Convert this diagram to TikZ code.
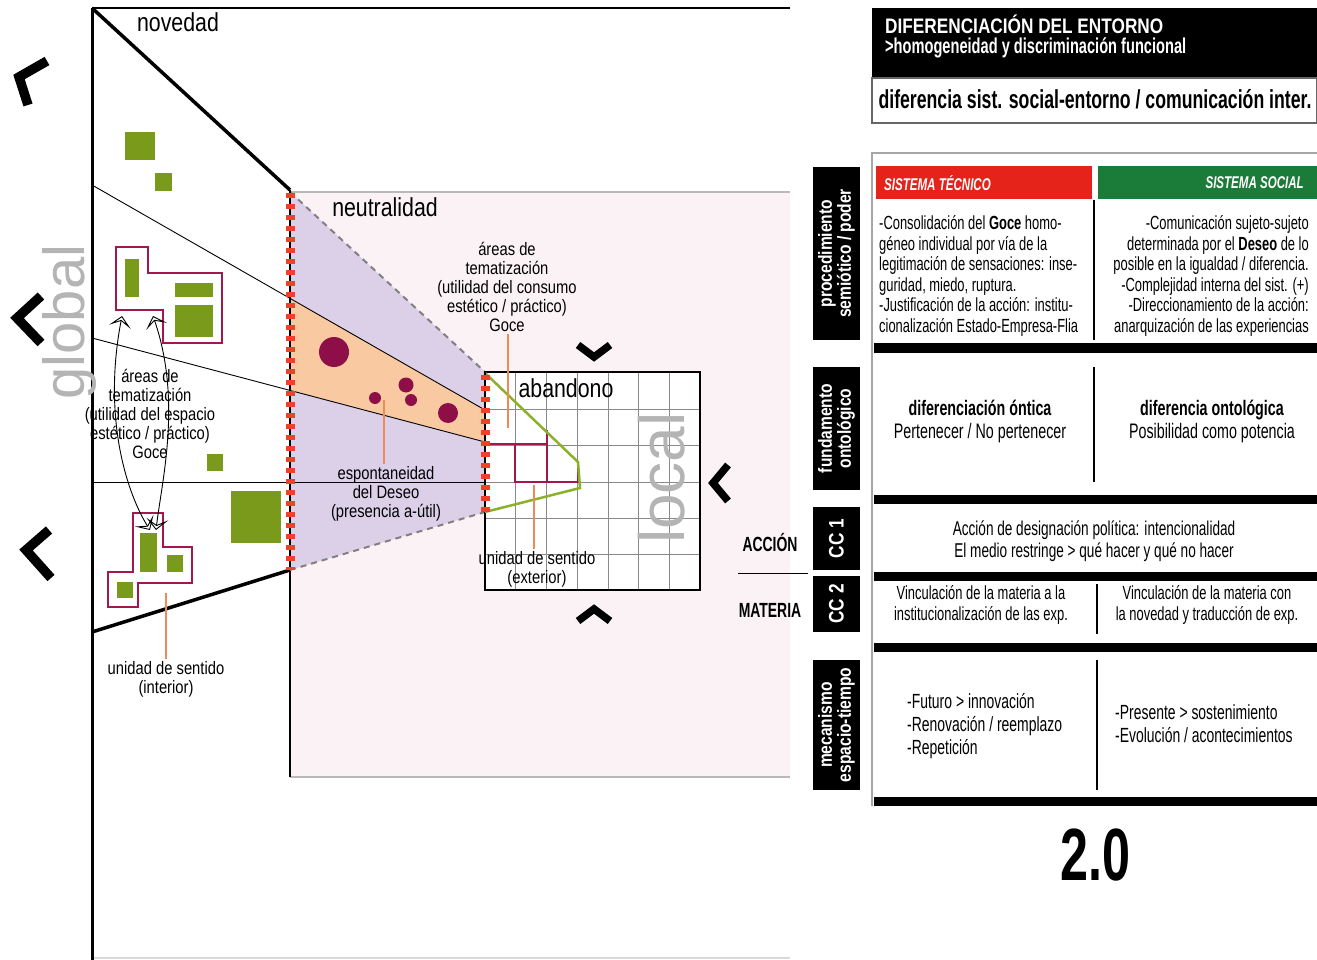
\documentclass[tikz,border=0pt]{standalone}
\usepackage{fontspec}
\setmainfont{Liberation Sans}
\newfontfamily\labf[FakeStretch=0.82]{Liberation Sans}
\newfontfamily\narf[FakeStretch=0.68]{Liberation Sans}
\usetikzlibrary{arrows.meta}
\definecolor{leafgreen}{HTML}{7A9A1C}
\definecolor{gridgreen}{HTML}{8DB02B}
\definecolor{crim}{HTML}{A3174F}
\definecolor{dotcrim}{HTML}{8E0E47}
\definecolor{lav}{HTML}{DCD0E9}
\definecolor{peach}{HTML}{F9C9A1}
\definecolor{pinkbg}{HTML}{FBF2F5}
\definecolor{leadorange}{HTML}{EE8A55}
\definecolor{dashred}{HTML}{F0402A}
\definecolor{techred}{HTML}{E5231B}
\definecolor{socgreen}{HTML}{1B7B38}
\definecolor{gridgray}{HTML}{8A8A8A}
\definecolor{globgray}{HTML}{B4B4B4}
\tikzset{
  lbl/.style={font=\labf\fontsize{18}{19.2}\selectfont, align=center, inner sep=0pt},
  bigl/.style={font=\labf\fontsize{26}{28}\selectfont, inner sep=0pt},
  leader/.style={draw=leadorange, line width=1.1pt},
  chev/.style={line width=9.5pt, line join=miter, miter limit=10},
  smallchev/.style={line width=7.5pt, line join=miter, miter limit=10},
  sidebox/.style={fill=black, text=white, rotate=90, inner sep=0pt, align=center,
    font=\labf\bfseries\fontsize{19}{19}\selectfont, minimum height=47pt},
  tb/.style={font=\narf\fontsize{19}{20.6}\selectfont, inner sep=0pt},
  cutline/.style={line width=2.5pt},
  reddash/.style={dashred, line width=9pt, dash pattern=on 5pt off 6pt},
  greenblock/.style={fill=leafgreen},
  crimline/.style={draw=crim, line width=2.5pt},
  dashedge/.style={draw=gray, line width=2pt, dash pattern=on 6pt off 5pt},
  twoway/.style={line width=0.9pt, {Stealth[open, length=11pt, width=22pt, inset=6pt]}-{Stealth[open, length=11pt, width=22pt, inset=6pt]}},
}
\begin{document}
\begin{tikzpicture}[x=1pt,y=-1pt]
\useasboundingbox (0,0) rectangle (1317,960);
\fill[white] (0,0) rectangle (1317,960);

% ---------- background field ----------
\fill[pinkbg] (290,192) rectangle (790,777);
\draw[gray!55, line width=2pt] (290,192) -- (790,192);
\draw[gray!55, line width=2pt] (290,777) -- (790,777);
\draw[line width=1.2pt] (290,570) -- (290,777);
\draw[gray!30, line width=1.5pt] (92,958) -- (790,958);

% ---------- cone of neutrality ----------
\fill[lav] (290,192) -- (485,372) -- (485,512) -- (290,570) -- cycle;
\fill[peach] (290,298) -- (485,410) -- (485,442) -- (290,390) -- cycle;
\draw[line width=0.9pt] (92,185) -- (485,410);
\draw[line width=0.9pt] (92,338) -- (485,442);
\draw[line width=0.9pt] (92,482) -- (485,482);
\draw[dashedge] (290,192) -- (485,372);
\draw[dashedge] (290,570) -- (485,512);

% desire dots
\fill[dotcrim] (334,352) circle[radius=15pt];
\fill[dotcrim] (406,385) circle[radius=7.5pt];
\fill[dotcrim] (411,400) circle[radius=6pt];
\fill[dotcrim] (375,398) circle[radius=6pt];
\fill[dotcrim] (448,413) circle[radius=10pt];

% ---------- global frame ----------
\draw[cutline] (92,8) -- (790,8);
\draw[line width=3pt] (92,8) -- (92,960);
\draw[line width=3.5pt] (92,8) -- (290,190);
\draw[line width=3.5pt] (92,632) -- (290,570);

% ---------- local grid ----------
\fill[white] (485,372) rectangle (700,590);
\foreach \gx in {515.7,546.4,577.1,607.9,638.6,669.3}
  \draw[gridgray, line width=0.8pt] (\gx,372) -- (\gx,590);
\foreach \gy in {409.3,445.7,482,518.3,554.7}
  \draw[gridgray, line width=0.8pt] (485,\gy) -- (700,\gy);
\draw[line width=2.5pt] (485,372) rectangle (700,590);
\draw[crimline] (485,444) -- (547,444);
\draw[crimline] (547,430) -- (547,482);
\draw[crimline] (515,444) -- (515,482) -- (578,482) -- (578,463);
\draw[gridgreen, line width=2.5pt] (485,373) -- (578,462) -- (580,488) -- (485,512);

% ---------- dashed thresholds ----------
\draw[cutline] (290,190) -- (290,570);
\draw[reddash] (290,193) -- (290,570);
\draw[cutline] (485,372) -- (485,512);
\draw[reddash] (485,375) -- (485,512);

% ---------- units of sense (interior) ----------
\draw[crimline] (116,247) -- (148,247) -- (148,273) -- (222,273) -- (222,343) -- (163,343) -- (163,310) -- (116,310) -- cycle;
\draw[crimline] (133,513) -- (163,513) -- (163,547) -- (192,547) -- (192,583) -- (138,583) -- (138,607) -- (108,607) -- (108,572) -- (133,572) -- cycle;
\fill[greenblock] (125,132) rectangle (155,160);
\fill[greenblock] (155,173) rectangle (172,191);
\fill[greenblock] (125,259) rectangle (139,297);
\fill[greenblock] (175,283) rectangle (213,297);
\fill[greenblock] (175,305) rectangle (213,337);
\fill[greenblock] (140,533) rectangle (157,572);
\fill[greenblock] (167,555) rectangle (183,572);
\fill[greenblock] (117,582) rectangle (133,598);
\fill[greenblock] (207,454) rectangle (223,471);
\fill[greenblock] (231,491) rectangle (281,543);

% two-way exchanges between the interior units
\coordinate (exA1) at (122,316);
\coordinate (exA2) at (150,530);
\coordinate (exB1) at (153,316);
\coordinate (exB2) at (156,530);
\draw[twoway] (exA1) .. controls (102,420) and (128,495) .. (exA2);
\draw[twoway] (exB1) .. controls (182,400) and (162,480) .. (exB2);

% ---------- labels ----------
\node[bigl] (nov) at (178,22) {novedad};
\node[bigl] (neu) at (385,207) {neutralidad};
\node[bigl] (aba) at (566,388) {abandono};
\node[rotate=90, text=globgray, inner sep=0pt, font=\fontsize{58}{58}\selectfont] (glob) at (70,322) {global};
\node[rotate=90, text=globgray, inner sep=0pt, font=\fontsize{64}{64}\selectfont] (loc) at (662,478) {local};

\node[lbl] (temR) at (507,287) {áreas de\\tematización\\(utilidad del consumo\\estético / práctico)\\Goce};
\node[lbl] (temL) at (150,414) {áreas de\\tematización\\(utilidad del espacio\\estético / práctico)\\Goce};
\node[lbl] (esp) at (386,494) {espontaneidad\\del Deseo\\(presencia a-útil)};
\node[lbl] (uext) at (537,569) {unidad de sentido\\(exterior)};
\node[lbl] (uint) at (166,679) {unidad de sentido\\(interior)};

\coordinate (temRend) at (508,428);
\coordinate (espend) at (384,400);
\coordinate (uextend) at (534,485);
\coordinate (uintend) at (166,593);
\draw[leader] ([xshift=1pt,yshift=-2pt]temR.south) -- (temRend);
\draw[leader] ([xshift=-2pt,yshift=2pt]esp.north) -- (espend);
\draw[leader] ([xshift=-3pt,yshift=2pt]uext.north) -- (uextend);
\draw[leader] ([yshift=2pt]uint.north) -- (uintend);

% ---------- direction chevrons ----------
\draw[chev] (47,61) -- (19,77) -- (28,105);
\draw[chev] (41,296) -- (17,318) -- (41,343);
\draw[chev] (49,530) -- (26,550) -- (51,578);
\draw[smallchev] (728,465) -- (713,483) -- (728,501);
\draw[smallchev] (578,345) -- (594,357) -- (610,345);
\draw[smallchev] (578,621) -- (594,609) -- (610,621);

% ---------- right panel: heading ----------
\fill[black] (872,8) rectangle (1317,78);
\node[anchor=west, text=white, inner sep=0pt, font=\labf\bfseries\fontsize{21}{22}\selectfont] (hd1) at (885,24) {DIFERENCIACIÓN DEL ENTORNO};
\node[anchor=west, text=white, inner sep=0pt, font=\narf\bfseries\fontsize{21.5}{22}\selectfont] (hd2) at (885,48) {>homogeneidad y discriminación funcional};
\draw[fill=white, draw=gray!80!black, line width=1.3pt] (872,78) rectangle (1317,123);
\node[inner sep=0pt, font=\narf\bfseries\fontsize{26}{26}\selectfont] (hd3) at (1095,99) {diferencia sist. social-entorno / comunicación inter.};

% ---------- right panel: table ----------
\draw[gray!70, line width=1.3pt] (872,806) -- (872,153) -- (1317,153);
\fill[techred] (876,166) rectangle (1092,199);
\fill[socgreen] (1098,166) rectangle (1317,199);
\node[anchor=west, text=white, inner sep=0pt, font=\narf\bfseries\itshape\fontsize{17}{17}\selectfont] (stec) at (884,183) {SISTEMA TÉCNICO};
\node[anchor=east, text=white, inner sep=0pt, font=\narf\bfseries\itshape\fontsize{17}{17}\selectfont] (ssoc) at (1304,183) {SISTEMA SOCIAL};
\draw[line width=1.5pt] (1094,200) -- (1094,340);
\node[tb, anchor=west, align=left] (r1L) at (879,276) {-Consolidación del {\bfseries Goce} homo-\\géneo individual por vía de la\\legitimación de sensaciones: inse-\\guridad, miedo, ruptura.\\-Justificación de la acción: institu-\\cionalización Estado-Empresa-Flia};
\node[tb, anchor=east, align=right] (r1R) at (1309,276) {-Comunicación sujeto-sujeto\\determinada por el {\bfseries Deseo} de lo\\posible en la igualdad / diferencia.\\-Complejidad interna del sist. (+)\\-Direccionamiento de la acción:\\anarquización de las experiencias};
\fill[black] (874,343) rectangle (1317,353);

\draw[line width=1.5pt] (1094,367) -- (1094,482);
\node[tb, align=center, font=\narf\fontsize{21}{23}\selectfont] (r2L) at (980,421) {{\bfseries diferenciación óntica}\\Pertenecer / No pertenecer};
\node[tb, align=center, font=\narf\fontsize{21}{23}\selectfont] (r2R) at (1212,421) {{\bfseries diferencia ontológica}\\Posibilidad como potencia};
\fill[black] (874,495) rectangle (1317,504);

\node[tb, align=center, font=\narf\fontsize{20}{22}\selectfont] (r3) at (1094,541) {Acción de designación política: intencionalidad\\El medio restringe > qué hacer y qué no hacer};
\fill[black] (874,572) rectangle (1317,581);

\draw[line width=1.5pt] (1097,584) -- (1097,634);
\node[tb, align=center, font=\narf\fontsize{19}{21}\selectfont] (r4L) at (981,605) {Vinculación de la materia a la\\institucionalización de las exp.};
\node[tb, align=center, font=\narf\fontsize{19}{21}\selectfont] (r4R) at (1207,605) {Vinculación de la materia con\\la novedad y traducción de exp.};
\fill[black] (874,643) rectangle (1317,652);

\draw[line width=1.5pt] (1097,660) -- (1097,790);
\node[tb, anchor=west, align=left, font=\narf\fontsize{20.5}{23}\selectfont] (r5L) at (907,726) {-Futuro > innovación\\-Renovación / reemplazo\\-Repetición};
\node[tb, anchor=west, align=left, font=\narf\fontsize{20.5}{23}\selectfont] (r5R) at (1115,724) {-Presente > sostenimiento\\-Evolución / acontecimientos};
\fill[black] (874,797) rectangle (1317,806);

% ---------- row headings ----------
\node[sidebox, minimum width=173pt] (sb1) at (836.5,253.5) {procedimiento\\semiótico / poder};
\node[sidebox, minimum width=123pt] (sb2) at (836.5,428.5) {fundamento\\ontológico};
\node[sidebox, minimum width=63pt, font=\labf\bfseries\fontsize{21}{21}\selectfont] (sb3) at (836.5,538.5) {CC 1};
\node[sidebox, minimum width=56pt, font=\labf\bfseries\fontsize{21}{21}\selectfont] (sb4) at (836.5,604) {CC 2};
\node[sidebox, minimum width=130pt] (sb5) at (836.5,725) {mecanismo\\espacio-tiempo};

\node[inner sep=0pt, font=\narf\bfseries\fontsize{20.5}{21}\selectfont] (acc) at (770,543) {ACCIÓN};
\node[inner sep=0pt, font=\narf\bfseries\fontsize{20.5}{21}\selectfont] (mat) at (770,610) {MATERIA};
\draw[line width=1pt] (738,573) -- (808,573);

\node[inner sep=0pt, font=\narf\bfseries\fontsize{74}{74}\selectfont] (ver) at (1095,855) {2.0};
\end{tikzpicture}
\end{document}
